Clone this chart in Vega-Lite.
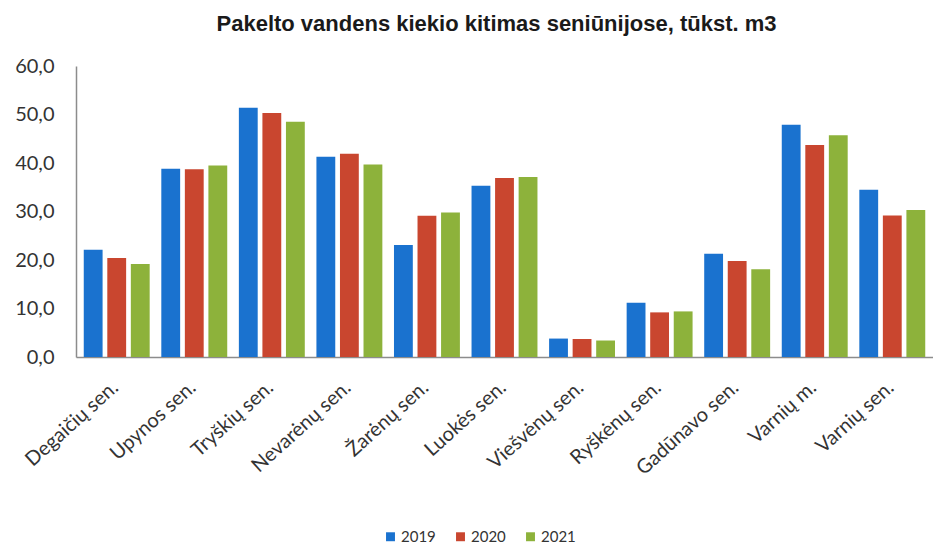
{
  "$schema": "https://vega.github.io/schema/vega-lite/v6.json",
  "autosize": "none",
  "padding": {"left": 76, "top": 66, "right": 0, "bottom": 188},
  "width": 857,
  "height": 291,
  "background": "white",
  "title": {
    "text": "Pakelto vandens kiekio kitimas seniūnijose, tūkst. m3",
    "font": "Liberation Sans",
    "fontSize": 22,
    "fontWeight": "bold",
    "color": "#1a1a1a",
    "anchor": "middle",
    "offset": 20,
    "dx": -8
  },
  "data": {
    "values": [
      {"sen": "Degaičių sen.", "metai": "2019", "v": 22.1},
      {"sen": "Degaičių sen.", "metai": "2020", "v": 20.4},
      {"sen": "Degaičių sen.", "metai": "2021", "v": 19.2},
      {"sen": "Upynos sen.", "metai": "2019", "v": 38.8},
      {"sen": "Upynos sen.", "metai": "2020", "v": 38.7},
      {"sen": "Upynos sen.", "metai": "2021", "v": 39.5},
      {"sen": "Tryškių sen.", "metai": "2019", "v": 51.4},
      {"sen": "Tryškių sen.", "metai": "2020", "v": 50.3},
      {"sen": "Tryškių sen.", "metai": "2021", "v": 48.5},
      {"sen": "Nevarėnų sen.", "metai": "2019", "v": 41.3},
      {"sen": "Nevarėnų sen.", "metai": "2020", "v": 41.9},
      {"sen": "Nevarėnų sen.", "metai": "2021", "v": 39.7},
      {"sen": "Žarėnų sen.", "metai": "2019", "v": 23.1},
      {"sen": "Žarėnų sen.", "metai": "2020", "v": 29.1},
      {"sen": "Žarėnų sen.", "metai": "2021", "v": 29.8},
      {"sen": "Luokės sen.", "metai": "2019", "v": 35.3},
      {"sen": "Luokės sen.", "metai": "2020", "v": 36.9},
      {"sen": "Luokės sen.", "metai": "2021", "v": 37.1},
      {"sen": "Viešvėnų sen.", "metai": "2019", "v": 3.8},
      {"sen": "Viešvėnų sen.", "metai": "2020", "v": 3.7},
      {"sen": "Viešvėnų sen.", "metai": "2021", "v": 3.4},
      {"sen": "Ryškėnų sen.", "metai": "2019", "v": 11.2},
      {"sen": "Ryškėnų sen.", "metai": "2020", "v": 9.2},
      {"sen": "Ryškėnų sen.", "metai": "2021", "v": 9.4},
      {"sen": "Gadūnavo sen.", "metai": "2019", "v": 21.3},
      {"sen": "Gadūnavo sen.", "metai": "2020", "v": 19.8},
      {"sen": "Gadūnavo sen.", "metai": "2021", "v": 18.1},
      {"sen": "Varnių m.", "metai": "2019", "v": 47.9},
      {"sen": "Varnių m.", "metai": "2020", "v": 43.7},
      {"sen": "Varnių m.", "metai": "2021", "v": 45.7},
      {"sen": "Varnių sen.", "metai": "2019", "v": 34.5},
      {"sen": "Varnių sen.", "metai": "2020", "v": 29.2},
      {"sen": "Varnių sen.", "metai": "2021", "v": 30.3}
    ]
  },
  "mark": {"type": "bar"},
  "encoding": {
    "x": {
      "field": "sen",
      "type": "nominal",
      "sort": null,
      "scale": {"paddingInner": 0.15, "paddingOuter": 0.1},
      "axis": {
        "title": null,
        "labelAngle": -42,
        "labelFont": "Lato",
        "labelFontSize": 20,
        "labelColor": "#333333",
        "labelPadding": 20,
        "labelOffset": -8,
        "ticks": false,
        "domainColor": "#8c8c8c",
        "domainWidth": 1.5
      }
    },
    "xOffset": {"field": "metai", "type": "nominal", "scale": {"paddingInner": 0.2}},
    "y": {
      "field": "v",
      "type": "quantitative",
      "scale": {"domain": [0, 60], "nice": false},
      "axis": {
        "title": null,
        "values": [0, 10, 20, 30, 40, 50, 60],
        "labelExpr": "replace(format(datum.value, '.1f'), '.', ',')",
        "labelFont": "Lato",
        "labelFontSize": 20,
        "labelColor": "#333333",
        "labelPadding": 22,
        "ticks": false,
        "grid": false,
        "domainColor": "#8c8c8c",
        "domainWidth": 1.5
      }
    },
    "color": {
      "field": "metai",
      "type": "nominal",
      "scale": {"domain": ["2019", "2020", "2021"], "range": ["#1a72cf", "#c9462f", "#8db23b"]},
      "legend": {
        "title": null,
        "orient": "none",
        "direction": "horizontal",
        "legendX": 307,
        "legendY": 463,
        "symbolType": "square",
        "symbolSize": 80,
        "symbolStrokeWidth": 0,
        "labelFont": "Lato",
        "labelFontSize": 15,
        "labelColor": "#333333",
        "labelOffset": 3,
        "columnPadding": 17
      }
    }
  },
  "config": {"view": {"stroke": null}}
}
